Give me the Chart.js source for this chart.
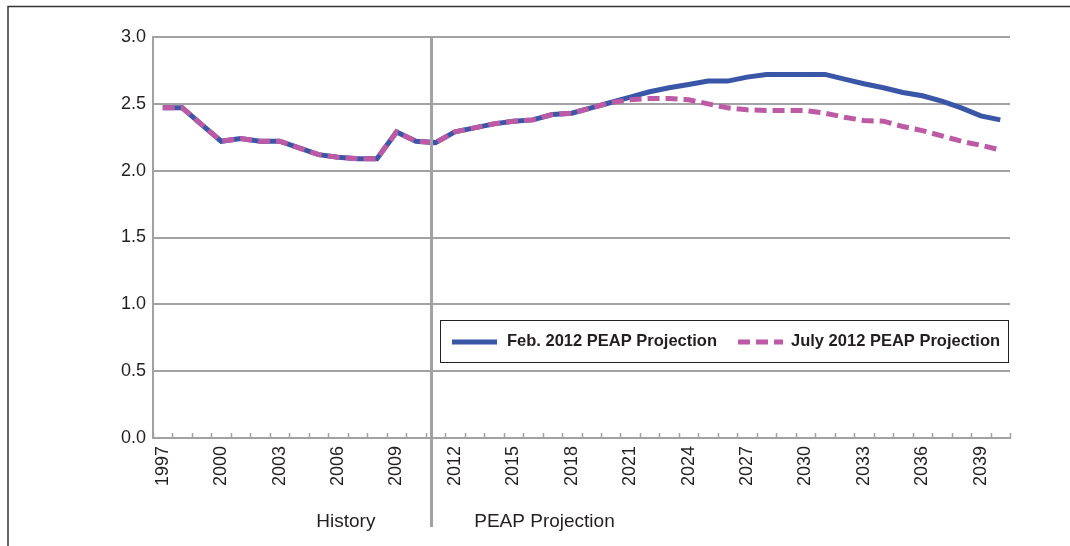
<!DOCTYPE html>
<html>
<head>
<meta charset="utf-8">
<title>PEAP Projection</title>
<script src="https://cdn.jsdelivr.net/npm/chart.js@4.4.0/dist/chart.umd.min.js"></script>
<style>
  html, body { margin: 0; padding: 0; background: #fff; }
  #wrap { position: relative; width: 1070px; height: 546px; }
</style>
</head>
<body>
<div id="wrap"><canvas id="chart" width="1070" height="546"></canvas></div>
<script>
// Années (catégories)
const years = [
  '1997','1998','1999','2000','2001','2002','2003','2004','2005','2006','2007',
  '2008','2009','2010','2011','2012','2013','2014','2015','2016','2017','2018',
  '2019','2020','2021','2022','2023','2024','2025','2026','2027','2028','2029',
  '2030','2031','2032','2033','2034','2035','2036','2037','2038','2039','2040'
];

// Feb. 2012 PEAP Projection
const febValues = [
  2.47, 2.47, 2.345, 2.22, 2.24, 2.22, 2.22, 2.17, 2.12, 2.10, 2.09,
  2.09, 2.29, 2.22, 2.21, 2.29, 2.32, 2.35, 2.37, 2.38, 2.42, 2.43,
  2.47, 2.51, 2.55, 2.59, 2.62, 2.645, 2.67, 2.67, 2.70, 2.72, 2.72,
  2.72, 2.72, 2.685, 2.65, 2.62, 2.585, 2.56, 2.52, 2.47, 2.41, 2.38
];

// July 2012 PEAP Projection
const julyValues = [
  2.47, 2.47, 2.345, 2.22, 2.24, 2.22, 2.22, 2.17, 2.12, 2.10, 2.09,
  2.09, 2.29, 2.22, 2.21, 2.29, 2.32, 2.35, 2.37, 2.38, 2.42, 2.43,
  2.47, 2.51, 2.53, 2.54, 2.54, 2.53, 2.50, 2.47, 2.455, 2.45, 2.45,
  2.45, 2.43, 2.40, 2.375, 2.37, 2.33, 2.30, 2.26, 2.22, 2.19, 2.155
];

const yTicks = [0, 0.5, 1.0, 1.5, 2.0, 2.5, 3.0];
const seriesNames = ['Feb. 2012 PEAP Projection', 'July 2012 PEAP Projection'];
const periodLabels = ['History', 'PEAP Projection'];

const BLUE = '#3a57a7';
const PINK = '#be5aa5';
const GRID = '#a2a2a6';
const TEXT = '#231f20';
const DIVIDER_POS = 13.8;   // position de la séparation History / Projection (index catégorie)

Chart.defaults.font.family = "'Liberation Sans', Arial, Helvetica, sans-serif";
Chart.defaults.color = TEXT;

// Cadre, petites graduations, séparateur, légende
const decorPlugin = {
  id: 'decor',
  afterDraw(chart) {
    const ctx = chart.ctx;
    const xs = chart.scales.x;
    const area = chart.chartArea;
    ctx.save();

    // cadre extérieur (haut + gauche)
    ctx.strokeStyle = '#333';
    ctx.lineWidth = 1.5;
    ctx.beginPath();
    ctx.moveTo(8, 546);
    ctx.lineTo(8, 6.5);
    ctx.lineTo(1070, 6.5);
    ctx.stroke();

    // graduations de l'axe X (vers le haut)
    ctx.strokeStyle = GRID;
    ctx.lineWidth = 1.5;
    ctx.beginPath();
    for (let i = 0; i <= years.length; i++) {
      const px = Math.round(xs.getPixelForValue(i - 0.5)) + 0.5;
      ctx.moveTo(px, area.bottom);
      ctx.lineTo(px, area.bottom - 5);
    }
    ctx.stroke();

    // séparateur vertical
    const dx = xs.getPixelForValue(DIVIDER_POS);
    ctx.strokeStyle = GRID;
    ctx.lineWidth = 3;
    ctx.beginPath();
    ctx.moveTo(dx, area.top);
    ctx.lineTo(dx, 527);
    ctx.stroke();

    // libellés des périodes
    ctx.fillStyle = TEXT;
    ctx.font = "19px 'Liberation Sans', Arial, sans-serif";
    ctx.textAlign = 'center';
    ctx.textBaseline = 'alphabetic';
    ctx.fillText(periodLabels[0], xs.getPixelForValue(9.4), 527);
    ctx.fillText(periodLabels[1], xs.getPixelForValue(19.6), 527);

    // légende encadrée
    ctx.fillStyle = '#fff';
    ctx.fillRect(440, 320, 569, 42);
    ctx.strokeStyle = '#222';
    ctx.lineWidth = 1;
    ctx.strokeRect(440.5, 320.5, 568, 42);

    ctx.lineWidth = 5;
    ctx.strokeStyle = BLUE;
    ctx.beginPath();
    ctx.moveTo(452, 342);
    ctx.lineTo(497, 342);
    ctx.stroke();

    ctx.strokeStyle = PINK;
    ctx.setLineDash([12, 6]);
    ctx.beginPath();
    ctx.moveTo(738, 342);
    ctx.lineTo(783, 342);
    ctx.stroke();
    ctx.setLineDash([]);

    ctx.fillStyle = TEXT;
    ctx.font = "bold 16.5px 'Liberation Sans', Arial, sans-serif";
    ctx.textAlign = 'left';
    ctx.textBaseline = 'middle';
    ctx.fillText(seriesNames[0], 507, 341);
    ctx.fillText(seriesNames[1], 791, 341);

    ctx.restore();
  }
};

const ctx = document.getElementById('chart').getContext('2d');
const chart = new Chart(ctx, {
  type: 'line',
  data: {
    labels: years,
    datasets: [
      {
        label: seriesNames[0],
        data: febValues,
        borderColor: BLUE,
        backgroundColor: BLUE,
        borderWidth: 5,
        pointRadius: 0,
        tension: 0,
        fill: false,
        order: 1
      },
      {
        label: seriesNames[1],
        data: julyValues,
        borderColor: PINK,
        backgroundColor: PINK,
        borderWidth: 5,
        borderDash: [12, 6],
        borderCapStyle: 'butt',
        pointRadius: 0,
        tension: 0,
        fill: false,
        order: 0
      }
    ]
  },
  options: {
    responsive: false,
    animation: false,
    layout: { padding: { top: 37, right: 60, left: 0, bottom: 0 } },
    plugins: {
      legend: { display: false },
      tooltip: { enabled: false }
    },
    scales: {
      x: {
        type: 'category',
        offset: true,
        grid: { display: false, drawTicks: false },
        border: { display: true, color: GRID, width: 2 },
        ticks: {
          autoSkip: false,
          minRotation: 90,
          maxRotation: 90,
          padding: 8,
          color: TEXT,
          font: { size: 18 },
          callback: (v, i) => (i % 3 === 0 ? years[i] : '')
        },
        afterFit: s => { s.height = 108; }
      },
      y: {
        min: 0,
        max: 3,
        afterBuildTicks: s => { s.ticks = yTicks.map(v => ({ value: v })); },
        ticks: {
          padding: 7,
          color: TEXT,
          font: { size: 18 },
          callback: v => Number(v).toFixed(1)
        },
        grid: { color: GRID, lineWidth: 2, drawTicks: false },
        border: { display: true, color: GRID, width: 2 },
        afterFit: s => { s.width = 153; }
      }
    }
  },
  plugins: [decorPlugin]
});
</script>
</body>
</html>
